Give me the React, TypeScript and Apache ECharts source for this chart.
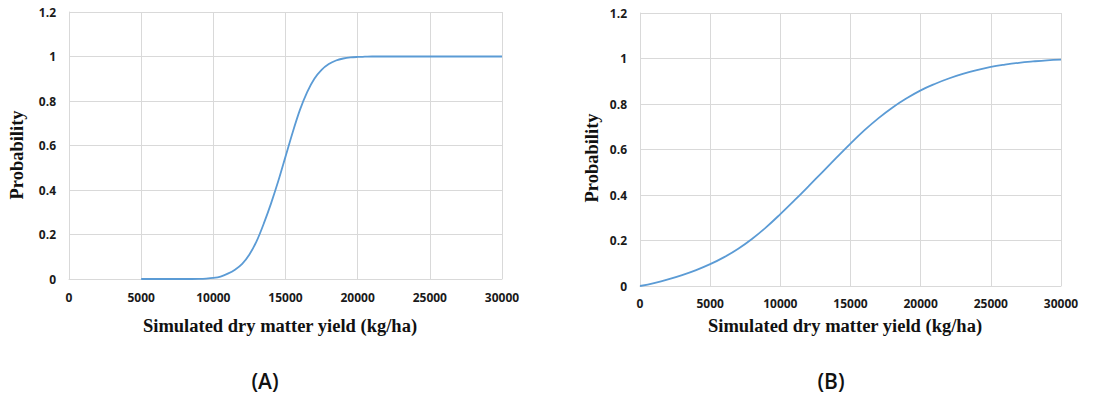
import React, { useEffect, useRef } from "react";
import * as echarts from "echarts";

// Panel A: cumulative probability vs simulated dry matter yield (kg/ha)
const yieldA = [
  5000, 5500, 6000, 6500, 7000, 7500, 8000, 8500, 9000, 9500, 10000, 10500, 11000, 11500, 12000,
  12500, 13000, 13500, 14000, 14500, 15000, 15500, 16000, 16500, 17000, 17500, 18000, 18500,
  19000, 19500, 20000, 20500, 21000, 22000, 23000, 24000, 25000, 26000, 27000, 28000, 29000, 30000,
];
const probA = [
  0, 0, 0, 0, 0, 0, 0, 0, 0.0005, 0.002, 0.005, 0.011, 0.024, 0.042, 0.068,
  0.11, 0.17, 0.25, 0.34, 0.44, 0.55, 0.66, 0.76, 0.84, 0.9, 0.94, 0.966, 0.982,
  0.991, 0.996, 0.998, 0.999, 1, 1, 1, 1, 1, 1, 1, 1, 1, 1,
];

// Panel B
const yieldB = [
  0, 1000, 2000, 3000, 4000, 5000, 6000, 7000, 8000, 9000, 10000, 11000, 12000, 13000, 14000,
  15000, 16000, 17000, 18000, 19000, 20000, 21000, 22000, 23000, 24000, 25000, 26000, 27000,
  28000, 29000, 30000,
];
const probB = [
  0, 0.013, 0.029, 0.048, 0.07, 0.096, 0.127, 0.164, 0.208, 0.259, 0.316, 0.376, 0.438, 0.501, 0.564,
  0.626, 0.685, 0.738, 0.785, 0.825, 0.86, 0.888, 0.912, 0.932, 0.949, 0.963, 0.973, 0.981,
  0.987, 0.992, 0.995,
];

const xTitle = "Simulated dry matter yield (kg/ha)";
const yTitle = "Probability";
const panelLabels = ["(A)", "(B)"];

const tickFont = {
  fontFamily: "Open Sans",
  fontWeight: 700,
  fontSize: 12,
  color: "#1a1a1a",
};
const gridColor = "#d9d9d9";
const lineColor = "#5B9BD5";

function xAxis(gridIndex: number, margin: number) {
  return {
    type: "value",
    gridIndex,
    min: 0,
    max: 30000,
    interval: 5000,
    axisLine: { show: true, lineStyle: { color: gridColor } },
    axisTick: { show: false },
    axisLabel: { ...tickFont, margin, formatter: (v: number) => String(v) },
    splitLine: { show: true, lineStyle: { color: gridColor, width: 1 } },
  };
}
function yAxis(gridIndex: number) {
  return {
    type: "value",
    gridIndex,
    min: 0,
    max: 1.2,
    interval: 0.2,
    axisLine: { show: true, lineStyle: { color: gridColor } },
    axisTick: { show: false },
    axisLabel: {
      ...tickFont,
      margin: 13,
      formatter: (v: number) => String(Math.round(v * 10) / 10),
    },
    splitLine: { show: true, lineStyle: { color: gridColor, width: 1 } },
  };
}

const titleFont = "bold 18.5px 'Liberation Serif', 'Times New Roman', serif";
const panelFont = "600 21px 'Open Sans', sans-serif";

export default function App() {
  const ref = useRef<HTMLDivElement>(null);
  useEffect(() => {
    if (!ref.current) return;
    const chart = echarts.init(ref.current, undefined, { renderer: "svg" });
    chart.setOption({
      animation: false,
      backgroundColor: "#ffffff",
      grid: [
        { left: 69, right: 598, top: 12, bottom: 118 },
        { left: 640, right: 39, top: 13, bottom: 111 },
      ],
      xAxis: [xAxis(0, 12), xAxis(1, 11)],
      yAxis: [yAxis(0), yAxis(1)],
      series: [
        {
          type: "line",
          xAxisIndex: 0,
          yAxisIndex: 0,
          data: yieldA.map((x, i) => [x, probA[i]]),
          smooth: 0.3,
          showSymbol: false,
          lineStyle: { color: lineColor, width: 1.8 },
        },
        {
          type: "line",
          xAxisIndex: 1,
          yAxisIndex: 1,
          data: yieldB.map((x, i) => [x, probB[i]]),
          smooth: 0.4,
          showSymbol: false,
          lineStyle: { color: lineColor, width: 1.8 },
        },
      ],
      graphic: [
        {
          type: "text",
          x: 280,
          y: 326,
          style: { text: xTitle, font: titleFont, fill: "#111", align: "center", verticalAlign: "middle" },
        },
        {
          type: "text",
          x: 845,
          y: 326,
          style: { text: xTitle, font: titleFont, fill: "#111", align: "center", verticalAlign: "middle" },
        },
        {
          type: "text",
          x: 17,
          y: 155,
          rotation: Math.PI / 2,
          style: { text: yTitle, font: titleFont, fill: "#111", align: "center", verticalAlign: "middle" },
        },
        {
          type: "text",
          x: 592,
          y: 158,
          rotation: Math.PI / 2,
          style: { text: yTitle, font: titleFont, fill: "#111", align: "center", verticalAlign: "middle" },
        },
        {
          type: "text",
          x: 265,
          y: 381,
          style: { text: panelLabels[0], font: panelFont, fill: "#111", align: "center", verticalAlign: "middle" },
        },
        {
          type: "text",
          x: 831,
          y: 381,
          style: { text: panelLabels[1], font: panelFont, fill: "#111", align: "center", verticalAlign: "middle" },
        },
      ],
    });
    return () => chart.dispose();
  }, []);
  return (
    <div
      ref={ref}
      style={{ position: "fixed", left: 0, top: 0, width: 1100, height: 397, background: "#fff" }}
    />
  );
}
